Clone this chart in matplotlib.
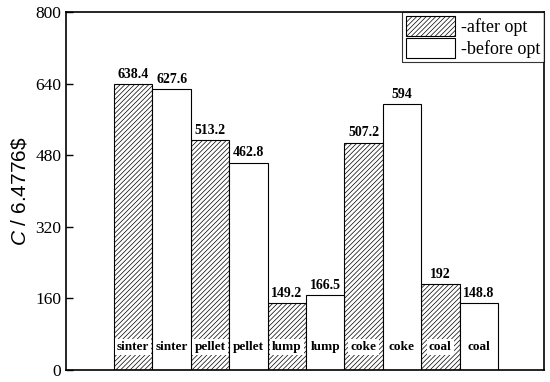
import matplotlib
matplotlib.use('Agg')
import matplotlib.pyplot as plt
import numpy as np

# данные
names = ['sinter', 'pellet', 'lump', 'coke', 'coal']
after_opt = [638.4, 513.2, 149.2, 507.2, 192]
before_opt = [627.6, 462.8, 166.5, 594, 148.8]
after_txt = ['638.4', '513.2', '149.2', '507.2', '192']
before_txt = ['627.6', '462.8', '166.5', '594', '148.8']
yticks = [0, 160, 320, 480, 640, 800]

plt.rcParams['font.family'] = 'Liberation Serif'
plt.rcParams['hatch.linewidth'] = 0.5
plt.rcParams['mathtext.fontset'] = 'custom'
plt.rcParams['mathtext.it'] = 'Liberation Sans:italic'
plt.rcParams['mathtext.rm'] = 'Liberation Sans'

fig = plt.figure(figsize=(5.5, 3.82), dpi=100)
ax = fig.add_axes([66/550, 12/382, 478/550, 358/382])

x = np.arange(len(names)) * 2
ax.bar(x + 0.5, after_opt, width=1, color='white', edgecolor='black',
       hatch='///////', linewidth=0.8, label='-after opt')
ax.bar(x + 1.5, before_opt, width=1, color='white', edgecolor='black',
       linewidth=0.8, label='-before opt')

# подписи значений
for xi, v, t in zip(x + 0.5, after_opt, after_txt):
    ax.text(xi, v + 8, t, ha='center', va='bottom', fontsize=10, fontweight='bold')
for xi, v, t in zip(x + 1.5, before_opt, before_txt):
    ax.text(xi, v + 8, t, ha='center', va='bottom', fontsize=10, fontweight='bold')

# подписи категорий внутри столбцов
for xi, n in zip(x, names):
    ax.text(xi + 0.5, 52, n, ha='center', va='center', fontsize=9.5, fontweight='bold',
            bbox=dict(facecolor='white', edgecolor='none', pad=1.5))
    ax.text(xi + 1.5, 52, n, ha='center', va='center', fontsize=9.5, fontweight='bold')

ax.set_xlim(-1.25, 11.2)
ax.set_ylim(0, 800)
ax.set_yticks(yticks)
ax.set_xticks([])
ax.tick_params(axis='y', direction='in', length=5, width=1, labelsize=12.5)
for s in ax.spines.values():
    s.set_linewidth(1.2)

ax.set_ylabel('$C$ / 6.4776\\$', fontsize=15, family='Liberation Sans', labelpad=4)

leg = ax.legend(loc='upper right', fontsize=13, frameon=True, fancybox=False,
                edgecolor='black', borderpad=0.2, handlelength=2.7, handleheight=1.35,
                handletextpad=0.35, labelspacing=0.1, borderaxespad=0)
leg.get_frame().set_linewidth(0.8)

fig.savefig('out.png', dpi=100)
